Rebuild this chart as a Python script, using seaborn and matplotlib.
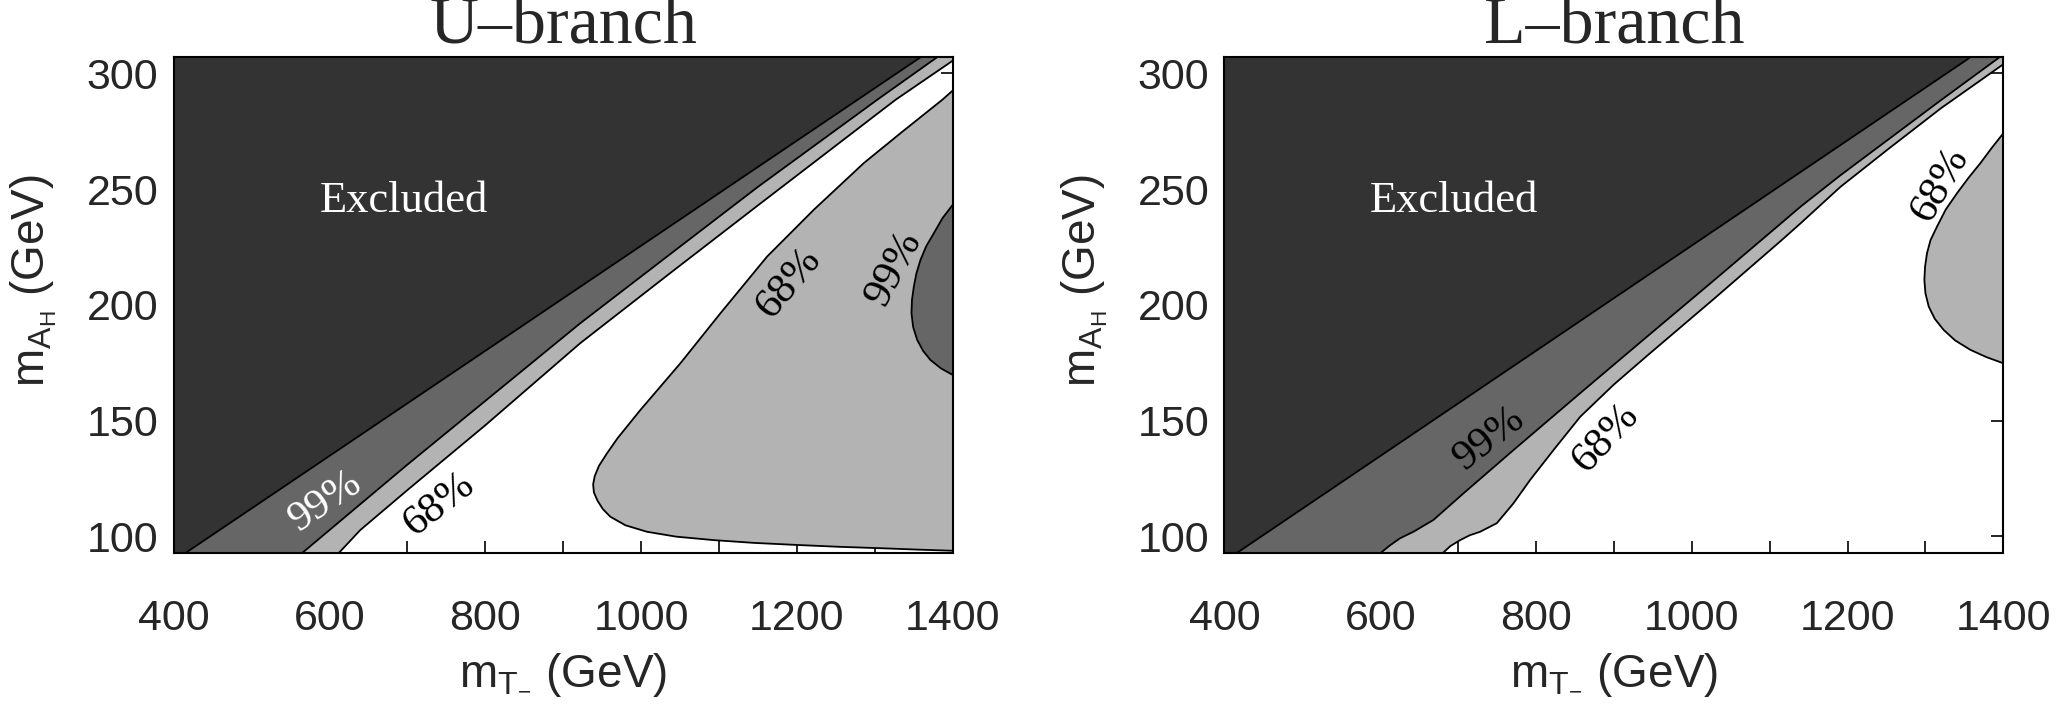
import matplotlib
matplotlib.use('Agg')
import matplotlib.pyplot as plt
import seaborn as sns

# ---------------------------------------------------------------
# boundaries, m_T- (GeV) vs m_AH (GeV)
# ---------------------------------------------------------------
# U-branch
u_excl_x = [414.6, 1358.8]
u_excl_y = [92.7, 307.0]

u_99_x = [564.5, 700, 922, 1037.6, 1150, 1303, 1380]
u_99_y = [92.7, 131, 192.1, 222, 251, 288.6, 307]

u_68_x = [611.6, 625, 639.4, 700, 800, 922, 1037.6, 1150, 1326.6, 1400]
u_68_y = [92.7, 97.5, 102.7, 120, 148, 183.5, 213.8, 243, 288.6, 305.5]

u_blob68_x = [1400, 1386.6, 1336, 1286, 1221.7, 1161.8, 1101.9, 1050.5, 999.1,
              970, 956.3, 946, 940.5, 938.5, 939.5, 944, 951, 960.6, 980,
              1007.7, 1045, 1093.3, 1145, 1200.4, 1255, 1307.4, 1355, 1400]
u_blob68_y = [292.6, 288.6, 275, 261.3, 241.1, 220.9, 196.4, 174.8, 154.6,
              142.5, 135.9, 130.5, 126, 122.5, 119, 115.5, 111.8, 108.5, 104.8,
              102, 99.9, 98.4, 97.2, 96.3, 95.5, 94.9, 94.3, 93.8]

u_blob99_x = [1400, 1387, 1375.9, 1366, 1358.8, 1353.5, 1350.2, 1347.8, 1347.2,
              1349.3, 1354.5, 1362, 1371.6, 1385, 1400]
u_blob99_y = [243.2, 237.5, 231, 225.3, 219.5, 213.6, 207.9, 202.1, 196.4,
              190.5, 184.9, 180.2, 176.2, 172.6, 169.8]

# L-branch
l_excl_x = [415.3, 1357.7]
l_excl_y = [92.7, 307.0]

l_99_x = [600, 612, 625.5, 642.6, 668.3, 706.9, 771.1, 856.8, 942.5, 1028,
          1113.7, 1139.8, 1190.8, 1248.4, 1320, 1395]
l_99_y = [92.7, 96, 99.2, 102, 107.1, 118.6, 137.3, 161.9, 186.3, 210.5,
          235, 242.5, 256, 270.5, 288.5, 307]

l_68_x = [680, 690, 702.6, 715, 728.3, 749.7, 771.1, 792.5, 822.5, 856.8,
          899.6, 942.5, 1028, 1113.7, 1139.8, 1190.8, 1252.8, 1320, 1400]
l_68_y = [92.7, 95.8, 98.4, 100.5, 102, 105.7, 114.3, 124.4, 137.3, 151.7,
          165.5, 178, 202.5, 227.5, 235.3, 251, 267.5, 285, 304]

l_blob68_x = [1400, 1385, 1370.6, 1355, 1340.6, 1326, 1314.9, 1306.5, 1302, 1299.5,
              1298.6, 1300, 1304.2, 1312, 1323.4, 1338, 1357.7, 1378, 1400]
l_blob68_y = [274.2, 267.8, 261.3, 254.8, 248.3, 241.2, 233.9, 228, 222.4, 216.6,
              210.8, 205, 199.3, 194, 189.2, 184.7, 180.6, 177.5, 174.8]

# contour labels: text, x, y, angle, colour
u_labels = [('99%', 594.5, 115, 34, 'white'),
            ('68%', 740, 113.6, 38, 'black'),
            ('68%', 1189.6, 209.4, 50, 'black'),
            ('99%', 1325.3, 215.9, 62, 'black')]
l_labels = [('99%', 739.9, 142.4, 38, 'black'),
            ('68%', 888.9, 142.4, 47, 'black'),
            ('68%', 1319.2, 251.9, 60, 'black')]

XLIM = (400, 1400)
YLIM = (92.7, 307)

DARK = '#333333'
MID = '#666666'
LIGHT = '#b3b3b3'

sns.set_theme(style='ticks')
plt.rcParams['font.family'] = ['Liberation Sans', 'DejaVu Sans']
plt.rcParams['mathtext.fontset'] = 'custom'
plt.rcParams['mathtext.rm'] = 'Liberation Sans'
plt.rcParams['mathtext.it'] = 'Liberation Sans:italic'
SERIF = ['Liberation Serif', 'DejaVu Serif']


def fill_above(ax, xs, ys, color):
    # area between a boundary curve and the upper-left corner of the box
    px = list(xs) + [XLIM[1], XLIM[0], XLIM[0]]
    py = list(ys) + [YLIM[1], YLIM[1], YLIM[0]]
    ax.fill(px, py, color=color, lw=0, zorder=1)


def edge(ax, xs, ys):
    sns.lineplot(x=xs, y=ys, sort=False, estimator=None, color='black',
                 lw=1.3, ax=ax, zorder=3)


def panel(ax, title, excl, c99, c68, blobs, labels):
    fill_above(ax, c68[0], c68[1], LIGHT)
    fill_above(ax, c99[0], c99[1], MID)
    fill_above(ax, excl[0], excl[1], DARK)
    for bx, by, col in blobs:
        ax.fill(bx, by, color=col, lw=0, zorder=2)
    for xs, ys in [excl, c99, c68] + [(b[0], b[1]) for b in blobs]:
        edge(ax, xs, ys)

    ax.text(695, 245, 'Excluded', color='white', family=SERIF, fontsize=32,
            ha='center', va='center', zorder=4)
    for txt, x, y, ang, col in labels:
        ax.text(x, y, txt, color=col, family=SERIF, fontsize=31, rotation=ang,
                rotation_mode='anchor', ha='center', va='center', zorder=4)

    ax.set_xlim(*XLIM)
    ax.set_ylim(*YLIM)
    ax.set_xticks(range(400, 1401, 200))
    ax.set_xticks(range(500, 1400, 200), minor=True)
    ax.set_yticks(range(100, 301, 50))
    ax.tick_params(which='both', direction='in', top=True, right=True,
                   length=8.5, width=1.2, color='black', labelsize=31)
    ax.tick_params(axis='x', which='major', pad=33)
    ax.tick_params(axis='y', which='major', pad=11)
    for s in ax.spines.values():
        s.set_color('black')
        s.set_linewidth(1.5)
        s.set_zorder(5)
    ax.set_xlabel('')
    ax.set_ylabel('')
    ax.set_title(title, family=SERIF, fontsize=49, pad=5)
    ax.text(0.5, -0.245, r'm$_{\mathrm{T_{-}}}$ (GeV)', transform=ax.transAxes,
            ha='center', va='center', fontsize=33)
    ax.text(-0.18, 0.55, r'm$_{\mathrm{A_H}}$ (GeV)', transform=ax.transAxes,
            ha='center', va='center', rotation=90, fontsize=33)


fig = plt.figure(figsize=(20.7, 7.09), dpi=100)
ax1 = fig.add_axes([0.0839, 0.2196, 0.3763, 0.6996])
ax2 = fig.add_axes([0.5915, 0.2196, 0.3763, 0.6996])

panel(ax1, 'U\u2013branch', (u_excl_x, u_excl_y), (u_99_x, u_99_y),
      (u_68_x, u_68_y),
      [(u_blob68_x, u_blob68_y, LIGHT), (u_blob99_x, u_blob99_y, MID)],
      u_labels)
panel(ax2, 'L\u2013branch', (l_excl_x, l_excl_y), (l_99_x, l_99_y),
      (l_68_x, l_68_y),
      [(l_blob68_x, l_blob68_y, LIGHT)],
      l_labels)

fig.savefig('out.png', dpi=100)
